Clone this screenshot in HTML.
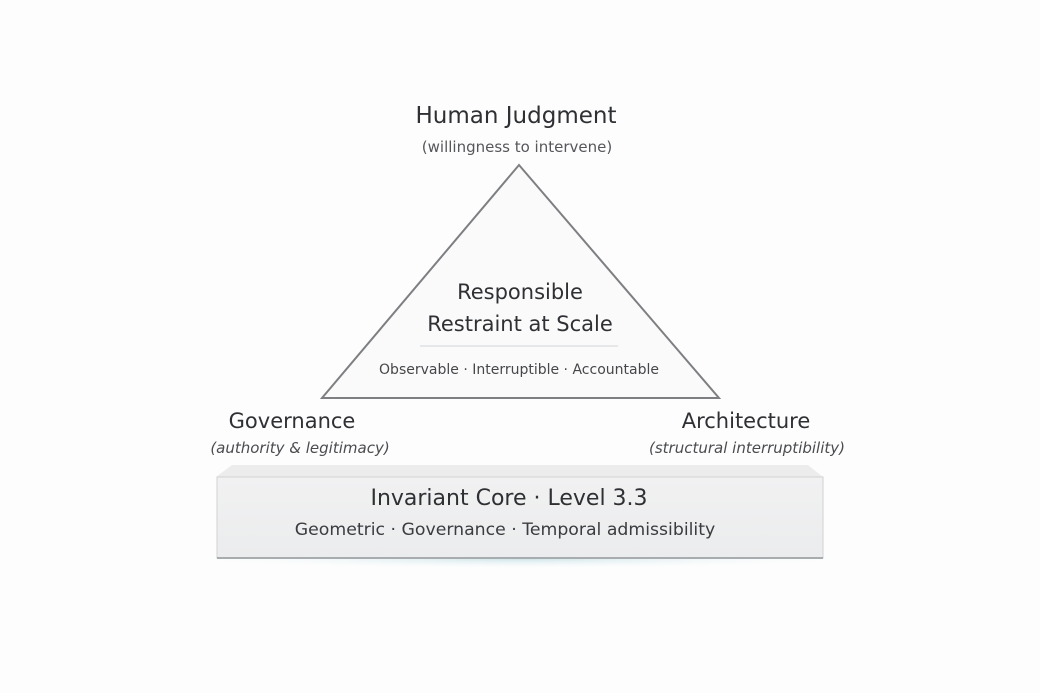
<!DOCTYPE html>
<html><head><meta charset="utf-8"><style>
html,body{margin:0;padding:0;background:#fdfdfd;}
body{width:1040px;height:693px;position:relative;overflow:hidden;font-family:"DejaVu Sans","Liberation Sans",sans-serif;color:#2e3034;}
.t{position:absolute;white-space:nowrap;transform:translateX(-50%);}
</style></head><body>
<svg width="1040" height="693" style="position:absolute;left:0;top:0">
<defs>
<linearGradient id="sl" x1="0" y1="0" x2="0" y2="1"><stop offset="0" stop-color="#f1f1f2"/><stop offset="1" stop-color="#ebeced"/></linearGradient>
<radialGradient id="sh" cx="0.5" cy="0.5" r="0.5"><stop offset="0" stop-color="#cfe6ea"/><stop offset="1" stop-color="#fdfdfd" stop-opacity="0"/></radialGradient>
</defs>
<ellipse cx="520" cy="559" rx="350" ry="10" fill="url(#sh)"/>
<polygon points="519,165 322,398 719,398" fill="#fafafa" stroke="#7d7f82" stroke-width="2"/>
<line x1="420" y1="346" x2="618" y2="346" stroke="#d2d4d6" stroke-width="1"/>
<polygon points="232,465 808,465 823,477 216,477" fill="#ececed"/>
<rect x="217" y="477" width="606" height="81" fill="url(#sl)" stroke="#d0d2d4" stroke-width="1"/>
<line x1="217" y1="558" x2="823" y2="558" stroke="#a9acaf" stroke-width="2"/>
</svg>
<div class="t" style="left:516px;top:103px;font-size:23px;">Human Judgment</div>
<div class="t" style="left:517px;top:138px;font-size:15px;color:#55575b;">(willingness to intervene)</div>
<div class="t" style="left:520px;top:280px;font-size:21px;">Responsible</div>
<div class="t" style="left:520px;top:312px;font-size:21px;">Restraint at Scale</div>
<div class="t" style="left:519px;top:362px;font-size:14px;color:#45474b;">Observable · Interruptible · Accountable</div>
<div class="t" style="left:292px;top:409px;font-size:21px;">Governance</div>
<div class="t" style="left:300px;top:439px;font-size:15px;font-style:italic;color:#4a4c50;">(authority &amp; legitimacy)</div>
<div class="t" style="left:746px;top:409px;font-size:21px;">Architecture</div>
<div class="t" style="left:747px;top:439px;font-size:15px;font-style:italic;color:#4a4c50;">(structural interruptibility)</div>
<div class="t" style="left:509px;top:486px;font-size:22px;">Invariant Core · Level 3.3</div>
<div class="t" style="left:505px;top:520px;font-size:17.3px;color:#3a3c40;">Geometric · Governance · Temporal admissibility</div>
</body></html>
